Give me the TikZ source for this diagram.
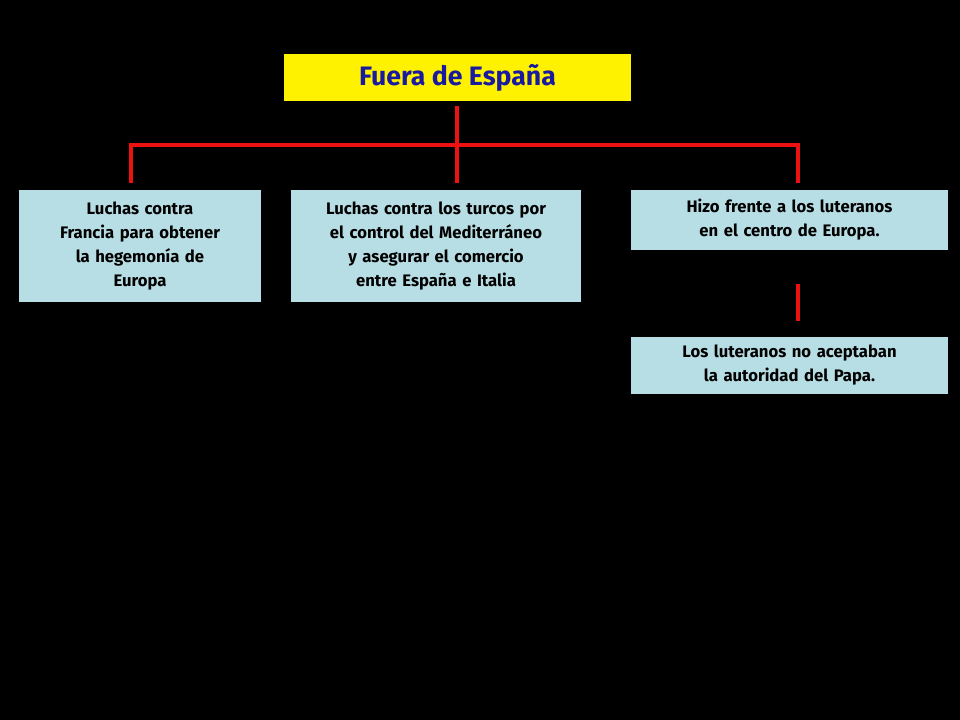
\documentclass[tikz,border=0pt]{standalone}
\usepackage{fontspec}
\setmainfont{Fira Sans}
\definecolor{boxblue}{HTML}{B7DEE4}
\definecolor{ttl}{HTML}{1A1AA0}
\definecolor{lred}{HTML}{EE1111}
\begin{document}
\begin{tikzpicture}[x=0.75pt,y=-0.75pt,
  bx/.style={fill=boxblue,draw=none,inner sep=0pt,align=center,font=\bfseries\fontsize{12.5}{18}\selectfont,text=black},
  ln/.style={draw=lred,line width=3pt}]
\fill[black] (0,0) rectangle (960,720);
\useasboundingbox (0,0) rectangle (960,720);
\node[fill=yellow,minimum width=347*0.75pt,minimum height=47*0.75pt,inner sep=0pt,text=ttl,font=\bfseries\fontsize{20}{24}\selectfont] (t) at (457.5,77.5) {Fuera de España};
\node[bx,minimum width=242*0.75pt,minimum height=112*0.75pt,text width=230*0.75pt] (a) at (140,246) {Luchas contra\\Francia para obtener\\la hegemonía de\\Europa};
\node[bx,minimum width=290*0.75pt,minimum height=112*0.75pt,text width=280*0.75pt] (b) at (436,246) {Luchas contra los turcos por\\el control del Mediterráneo\\y asegurar el comercio\\entre España e Italia};
\node[bx,minimum width=317*0.75pt,minimum height=60*0.75pt,text width=305*0.75pt] (c) at (789.5,220) {Hizo frente a los luteranos\\en el centro de Europa.};
\node[bx,minimum width=317*0.75pt,minimum height=57*0.75pt,text width=305*0.75pt] (d) at (789.5,365.5) {Los luteranos no aceptaban\\la autoridad del Papa.};
\coordinate (j) at (457,145);
\coordinate (l) at (131,145);
\coordinate (r) at (798,145);
\draw[ln] (457,106) -- (j);
\draw[ln] (131,183) -- (l) -- (r) -- (798,183);
\draw[ln] (j) -- (457,183);
\draw[ln] (798,284) -- (798,321);
\end{tikzpicture}
\end{document}
